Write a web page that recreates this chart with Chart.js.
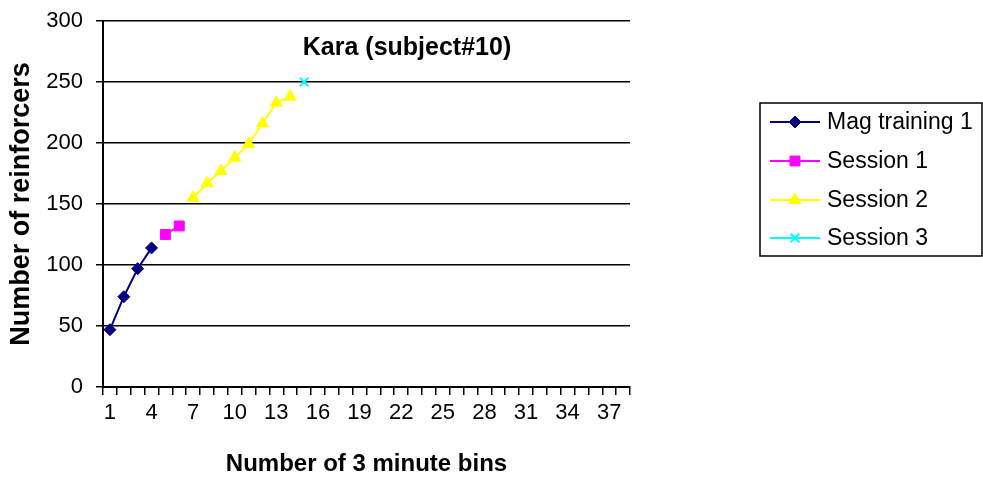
<!DOCTYPE html>
<html>
<head>
<meta charset="utf-8">
<script src="https://cdn.jsdelivr.net/npm/chart.js@4.4.1/dist/chart.umd.min.js"></script>
<style>
  html, body { margin: 0; padding: 0; background: #fff; }
  #box { width: 983px; height: 481px; position: relative; }
</style>
</head>
<body>
<div id="box"><canvas id="chart"></canvas></div>
<script>
// Kara (subject#10) - cumulative reinforcers per 3 minute bin
const bins = ['1','2','3','4','5','6','7','8','9','10','11','12','13','14','15','16','17','18','19',
  '20','21','22','23','24','25','26','27','28','29','30','31','32','33','34','35','36','37','38'];
const magTraining1 = [47, 74, 97, 114];
const session1 = [null, null, null, null, 125, 132];
const session2 = [null, null, null, null, null, null, 155, 167, 177, 188, 199, 216, 233, 238];
const session3 = [null, null, null, null, null, null, null, null, null, null, null, null, null, null, 250];
const yTicks = [0, 50, 100, 150, 200, 250, 300];

const FONT = '"Liberation Sans", Arial, Helvetica, sans-serif';

// boxed legend on the right + title inside the plot, like the Excel original
const legendPlugin = {
  id: 'boxLegend',
  afterDraw(chart) {
    const ctx = chart.ctx;
    const x0 = 760, y0 = 103, x1 = 982, y1 = 256;
    ctx.save();
    ctx.strokeStyle = '#000';
    ctx.lineWidth = 1.5;
    ctx.strokeRect(x0, y0, x1 - x0, y1 - y0);
    const rowY = [122, 161, 200, 238];
    chart.data.datasets.forEach((ds, i) => {
      const y = rowY[i];
      ctx.strokeStyle = ds.borderColor;
      ctx.lineWidth = ds.borderWidth;
      ctx.beginPath();
      ctx.moveTo(770, y);
      ctx.lineTo(820, y);
      ctx.stroke();
      ctx.fillStyle = ds.pointBackgroundColor;
      ctx.strokeStyle = ds.pointBorderColor;
      ctx.lineWidth = ds.pointBorderWidth;
      Chart.helpers.drawPoint(ctx, {
        pointStyle: ds.pointStyle, radius: ds.pointRadius, rotation: 0,
        borderWidth: ds.pointBorderWidth
      }, 795, y);
      ctx.fillStyle = '#000';
      ctx.font = '23px ' + FONT;
      ctx.textAlign = 'left';
      ctx.textBaseline = 'middle';
      ctx.fillText(ds.label, 827, y + 1);
    });
    ctx.fillStyle = '#000';
    ctx.font = 'bold 25px ' + FONT;
    ctx.textAlign = 'center';
    ctx.textBaseline = 'middle';
    ctx.fillText('Kara (subject#10)', 407, 48);
    ctx.restore();
  }
};

function series(label, data, color, style, radius, bw) {
  return {
    label: label, data: data,
    borderColor: color, backgroundColor: color, borderWidth: 2,
    pointStyle: style, pointRadius: radius, pointHoverRadius: radius,
    pointBackgroundColor: color, pointBorderColor: color, pointBorderWidth: bw,
    spanGaps: false, tension: 0
  };
}

new Chart(document.getElementById('chart'), {
  type: 'line',
  data: {
    labels: bins,
    datasets: [
      series('Mag training 1', magTraining1, '#000080', 'rectRot', 6, 1),
      series('Session 1', session1, '#FF00FF', 'rect', 7, 1),
      series('Session 2', session2, '#FFFF00', 'triangle', 7, 1),
      series('Session 3', session3, '#00FFFF', 'crossRot', 6, 2)
    ]
  },
  options: {
    responsive: true, maintainAspectRatio: false, animation: false,
    layout: { padding: { left: 0, right: 353, top: 21, bottom: 0 } },
    plugins: { legend: { display: false }, tooltip: { enabled: false }, title: { display: false } },
    scales: {
      x: {
        type: 'category', offset: true,
        afterFit(s) { s.height = 94; },
        grid: { offset: true, drawOnChartArea: false, drawTicks: true, tickLength: 8, color: '#000', lineWidth: 1.5 },
        border: { color: '#000', width: 2 },
        ticks: {
          autoSkip: false, maxRotation: 0, color: '#000', padding: 5,
          font: { family: FONT, size: 22 },
          callback: function (v, i) { return i % 3 === 0 ? this.getLabelForValue(v) : ''; }
        },
        title: { display: true, text: 'Number of 3 minute bins', color: '#000',
          font: { family: FONT, size: 24, weight: 'bold', lineHeight: 1 }, padding: { top: 0, bottom: 5 } }
      },
      y: {
        min: 0, max: 300,
        afterFit(s) { s.width = 103; s.paddingTop = 0; s.paddingBottom = 0; },
        afterBuildTicks(s) { s.ticks = yTicks.map(v => ({ value: v })); },
        grid: { color: '#000', lineWidth: 1.5, tickLength: 7, drawTicks: true },
        border: { color: '#000', width: 2 },
        ticks: { color: '#000', padding: 13, font: { family: FONT, size: 22 } },
        title: { display: true, text: 'Number of reinforcers', color: '#000',
          font: { family: FONT, size: 27, weight: 'bold', lineHeight: 1 }, padding: { top: 8, bottom: 0 } }
      }
    }
  },
  plugins: [legendPlugin]
});
</script>
</body>
</html>
